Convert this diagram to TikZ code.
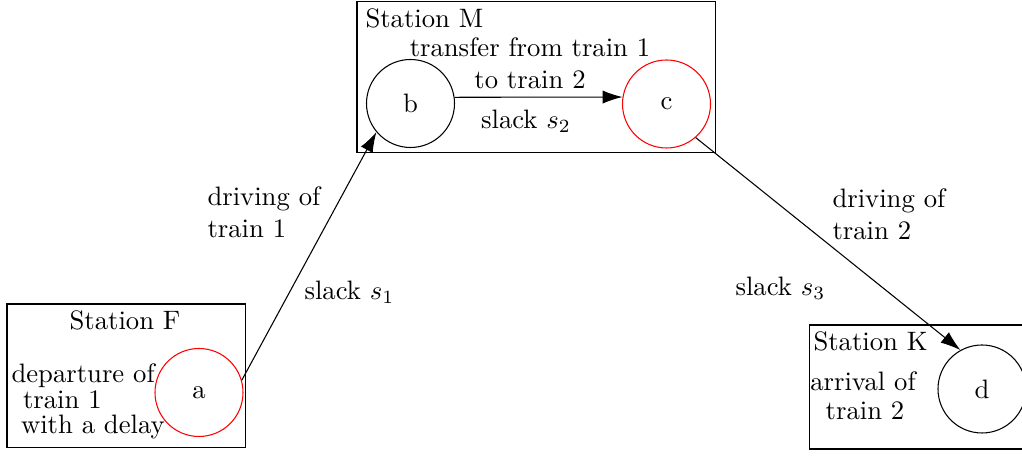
\documentclass[tikz,border=0pt]{standalone}
\usetikzlibrary{arrows.meta}
\begin{document}
\begin{tikzpicture}[x=0.375pt,y=-0.375pt,
  event/.style={circle,draw,inner sep=0pt,minimum size=33pt},
  delayed/.style={event,draw=red},
  station/.style={draw,line width=0.4pt},
  txt/.style={inner sep=0pt,anchor=base west},
  ctxt/.style={inner sep=0pt,anchor=base},
  flow/.style={-{Latex[length=7.5pt,width=5pt]},line width=0.4pt}]
\useasboundingbox (0,0) rectangle (1022,457);

% stations
\draw[station] (7,304) rectangle (245.5,447.5);
\draw[station] (357,1.5) rectangle (715.5,152.5);
\draw[station] (809.5,325) rectangle (1040,449);

% events
\node[delayed] (a) at (199,392.5) {a};
\node[event]   (b) at (410.5,103.5) {b};
\node[delayed] (c) at (666.5,104) {c};
\node[event]   (d) at (982,389) {d};

% activities
\draw[flow] (a.16) -- (b.220);
\draw[flow] (b.8.6) -- (c.171);
\draw[flow] (c.-49) -- (d.119);

% station names
\node[ctxt] (stF) at (125,330) {Station F};
\node[txt]  (stM) at (365,28) {Station M};
\node[txt]  (stK) at (813,351) {Station K};

% event descriptions
\node[txt] (dep1) at (11,383) {departure of};
\node[txt] (dep2) at (22.5,409) {train 1};
\node[txt] (dep3) at (20.5,434) {with a delay};
\node[ctxt] (arr1) at (863,391) {arrival of};
\node[ctxt] (arr2) at (865,420) {train 2};

% activity labels
\node[ctxt] (tr1) at (530,57) {transfer from train 1};
\node[ctxt] (tr2) at (530,89) {to train 2};
\node[ctxt] (s2) at (526,129) {slack $s_2$};
\node[txt] (dr1a) at (207,206) {driving of};
\node[txt] (dr1b) at (207,238) {train 1};
\node[txt] (s1) at (304,300) {slack $s_1$};
\node[txt] (dr2a) at (832,208) {driving of};
\node[txt] (dr2b) at (832,240) {train 2};
\node[txt] (s3) at (735,296) {slack $s_3$};
\end{tikzpicture}
\end{document}
